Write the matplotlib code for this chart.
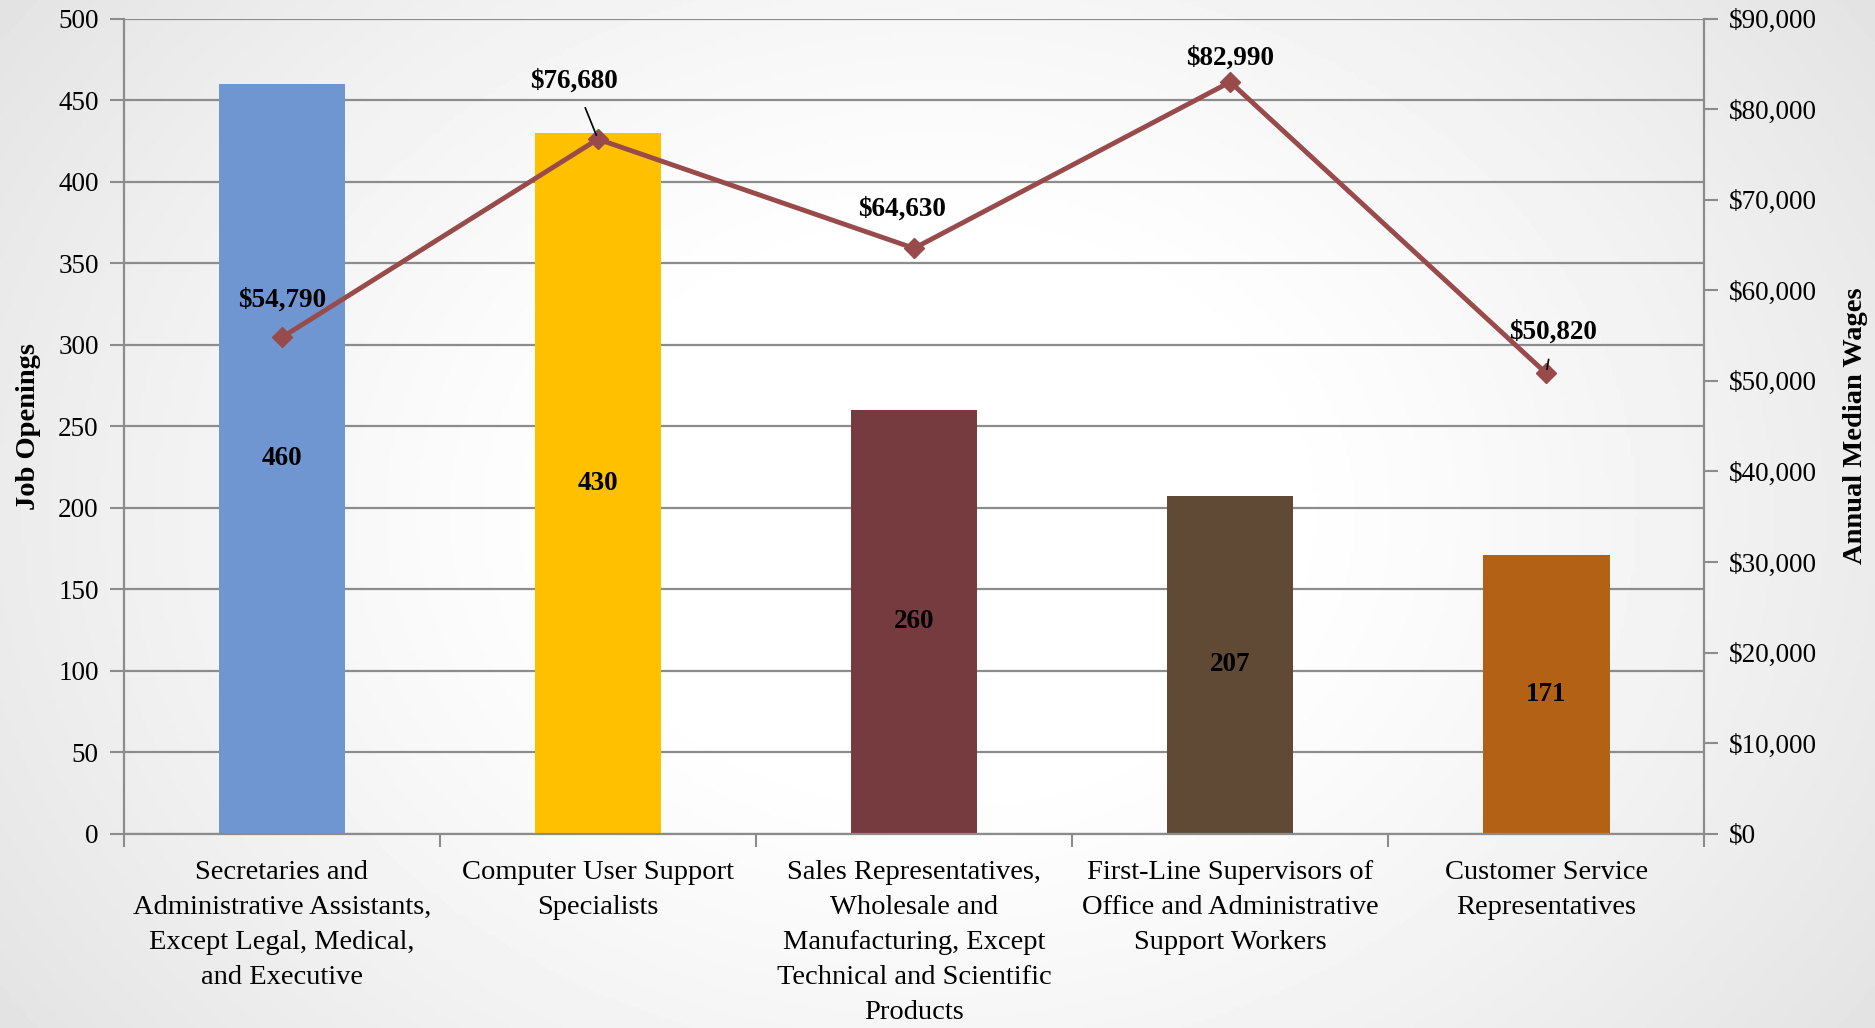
import numpy as np
import matplotlib
matplotlib.use("Agg")
import matplotlib.pyplot as plt
from matplotlib.ticker import FuncFormatter, MultipleLocator

# Datos
categorias = [
    "Secretaries and\nAdministrative Assistants,\nExcept Legal, Medical,\nand Executive",
    "Computer User Support\nSpecialists",
    "Sales Representatives,\nWholesale and\nManufacturing, Except\nTechnical and Scientific\nProducts",
    "First-Line Supervisors of\nOffice and Administrative\nSupport Workers",
    "Customer Service\nRepresentatives",
]
job_openings = [460, 430, 260, 207, 171]
wages = [54790, 76680, 64630, 82990, 50820]

colores_barras = ["#7096D2", "#FFC000", "#753B3F", "#604A35", "#B36215"]
color_linea = "#984B4A"
gris = "#8C8C8C"

plt.rcParams["font.family"] = ["Liberation Serif", "DejaVu Serif"]

fig = plt.figure(figsize=(18.75, 10.28), dpi=100)

# fondo con degradado radial
bg = fig.add_axes([0, 0, 1, 1], zorder=-10)
yy, xx = np.mgrid[-1:1:300j, -1:1:500j]
r = np.sqrt(xx**2 + (yy * 0.7) ** 2)
shade = 1.0 - 0.13 * np.clip(r - 0.35, 0, None) ** 1.2
bg.imshow(shade, cmap="gray", vmin=0, vmax=1, aspect="auto", extent=[0, 1, 0, 1])
bg.axis("off")

ax = fig.add_axes([0.066, 0.189, 0.843, 0.793])
ax.set_facecolor("none")
x = np.arange(len(categorias))

ax.bar(x, job_openings, width=0.4, color=colores_barras, zorder=2)
for xi, v in zip(x, job_openings):
    ax.text(xi, v / 2, str(v), ha="center", va="center", fontsize=19.5,
            fontweight="bold", color="black", zorder=3)

ax.set_xlim(-0.5, len(categorias) - 0.5)
ax.set_ylim(0, 500)
ax.yaxis.set_major_locator(MultipleLocator(50))
ax.grid(axis="y", color=gris, linewidth=1.6, zorder=0)
ax.set_axisbelow(True)
ax.set_xticks(x)
ax.set_xticklabels(categorias, fontsize=20.5, linespacing=1.52)
ax.tick_params(axis="x", which="major", length=0, pad=19)
ax.set_xticks(np.arange(-0.5, len(categorias)), minor=True)
ax.tick_params(axis="x", which="minor", length=9, width=1.5, color=gris)
ax.tick_params(axis="y", length=10, width=1.5, color=gris, labelsize=19.5, pad=8)
for s in ["top", "right"]:
    ax.spines[s].set_visible(False)
for s in ["left", "bottom"]:
    ax.spines[s].set_color(gris)
    ax.spines[s].set_linewidth(1.6)
ax.set_ylabel("Job Openings", fontsize=20.5, fontweight="bold", labelpad=12)

# eje secundario: salarios
ax2 = ax.twinx()
ax2.set_facecolor("none")
ax2.plot(x, wages, color=color_linea, linewidth=3.5, marker="D", markersize=10, zorder=4)
ax2.set_ylim(0, 90000)
ax2.yaxis.set_major_locator(MultipleLocator(10000))
ax2.yaxis.set_major_formatter(FuncFormatter(lambda v, p: "${:,.0f}".format(v)))
ax2.tick_params(axis="y", length=10, width=1.5, color=gris, labelsize=19.5, pad=8)
for s in ["top", "left", "bottom"]:
    ax2.spines[s].set_visible(False)
ax2.spines["right"].set_color(gris)
ax2.spines["right"].set_linewidth(1.6)
ax2.set_ylabel("Annual Median Wages", fontsize=20.5, fontweight="bold",
               rotation=90, labelpad=18)

offsets = [(0, 27), (-17, 42), (-9, 28), (0, 17), (5, 30)]
flechas = [False, True, False, False, True]
for xi, w, off, fl in zip(x, wages, offsets, flechas):
    props = dict(arrowstyle="-", color="black", lw=1.2, shrinkA=9, shrinkB=3) if fl else None
    ax2.annotate("${:,}".format(w), xy=(xi, w), xytext=off, textcoords="offset points",
                 ha="center", va="center", fontsize=19.5, fontweight="bold",
                 arrowprops=props, zorder=5)

fig.savefig("out.png", dpi=100)
